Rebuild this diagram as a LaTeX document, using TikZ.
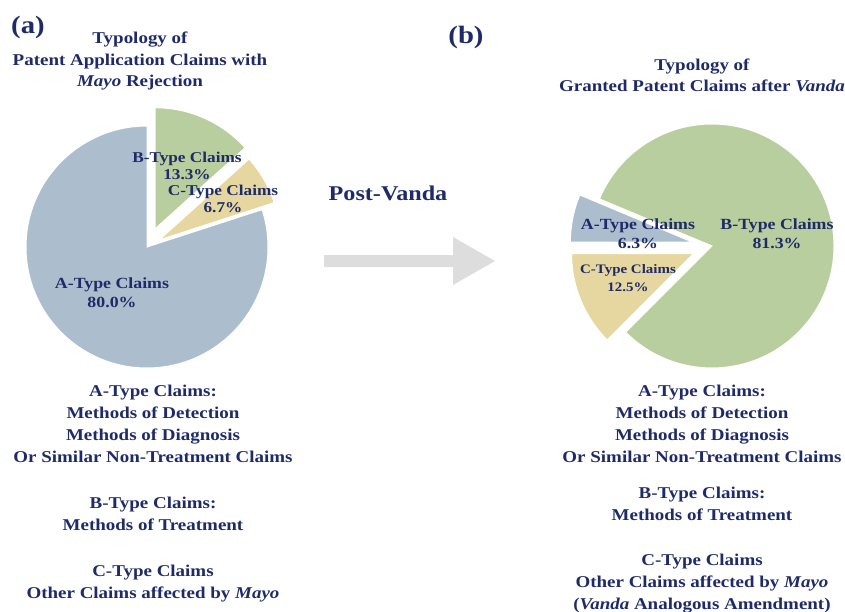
\documentclass[tikz,border=0pt]{standalone}
\usepackage{fontspec}
\setmainfont{Liberation Serif}[FakeStretch=1.15]
\usetikzlibrary{positioning}
\definecolor{navy}{RGB}{31,42,104}
\definecolor{sliceA}{RGB}{172,190,206}
\definecolor{sliceB}{RGB}{185,206,158}
\definecolor{sliceC}{RGB}{230,215,160}
\definecolor{arrowgray}{RGB}{221,221,221}
\tikzset{
  every node/.style={text=navy, inner sep=0pt},
  panel/.style={font=\bfseries\fontsize{25}{30}\selectfont},
  ttl/.style={align=center, font=\bfseries\fontsize{16.5}{21.5}\selectfont},
  pct/.style={align=center, font=\bfseries\fontsize{15.5}{19}\selectfont},
  pctsmall/.style={align=center, font=\bfseries\fontsize{13}{18}\selectfont},
  legend/.style={align=center, font=\bfseries\fontsize{16.5}{22}\selectfont},
  wedge/.style={draw=white, line width=1pt}
}
\begin{document}
\begin{tikzpicture}[x=1pt,y=1pt]
\useasboundingbox (0,0) rectangle (845,-612);
% (a) before
\fill[sliceA,wedge] (147,-247) -- ++(90:121) arc[start angle=90,end angle=378,radius=121] -- cycle;
\fill[sliceB,wedge,shift={(66:20)}] (147,-247) -- ++(42:121) arc[start angle=42,end angle=90,radius=121] -- cycle;
\fill[sliceC,wedge,shift={(30:14)}] (147,-247) -- ++(18:121) arc[start angle=18,end angle=42,radius=121] -- cycle;
% (b) after
\fill[sliceB,wedge] (712,-246) -- ++(225:122) arc[start angle=225,end angle=517.3,radius=122] -- cycle;
\fill[sliceA,wedge,shift={(168.7:20)}] (712,-246) -- ++(157.3:122) arc[start angle=157.3,end angle=180,radius=122] -- cycle;
\fill[sliceC,wedge,shift={(202.5:20)}] (712,-246) -- ++(180:122) arc[start angle=180,end angle=225,radius=122] -- cycle;
% arrow
\fill[arrowgray] (324,-255) -- (453,-255) -- (453,-237) -- (495,-261) -- (453,-285) -- (453,-267) -- (324,-267) -- cycle;
\node[ttl,font=\bfseries\fontsize{21}{25}\selectfont] (post) at (388,-193) {Post-Vanda};

\node[panel] (pa) at (28,-27) {(a)};
\node[panel] (pb) at (466,-37) {(b)};
\node[ttl] (tita) at (140,-61) {Typology of\\Patent Application Claims with\\\textit{Mayo} Rejection};
\node[ttl] (titb) at (702,-75.5) {Typology of\\Granted Patent Claims after \textit{Vanda}};

\node[pct] (aA) at (112,-293) {A-Type Claims\\80.0\%};
\node[pct,font=\bfseries\fontsize{15}{17}\selectfont] (aB) at (187,-165.5) {B-Type Claims\\13.3\%};
\node[pct,font=\bfseries\fontsize{15}{17}\selectfont] (aC) at (223,-199) {C-Type Claims\\6.7\%};
\node[pct] (bA) at (638,-234) {A-Type Claims\\6.3\%};
\node[pct] (bB) at (777,-234) {B-Type Claims\\81.3\%};
\node[pctsmall] (bC) at (628,-278) {C-Type Claims\\12.5\%};

\node[legend] (lega) at (153,-494) {A-Type Claims:\\Methods of Detection\\Methods of Diagnosis\\Or Similar Non-Treatment Claims\\[24pt]
  B-Type Claims:\\Methods of Treatment\\[24pt]C-Type Claims\\Other Claims affected by \textit{Mayo}};
\node[legend] (legb) at (702,-499.5) {A-Type Claims:\\Methods of Detection\\Methods of Diagnosis\\Or Similar Non-Treatment Claims\\[14pt]
  B-Type Claims:\\Methods of Treatment\\[23pt]C-Type Claims\\Other Claims affected by \textit{Mayo}\\(\textit{Vanda} Analogous Amendment)};
\end{tikzpicture}
\end{document}
